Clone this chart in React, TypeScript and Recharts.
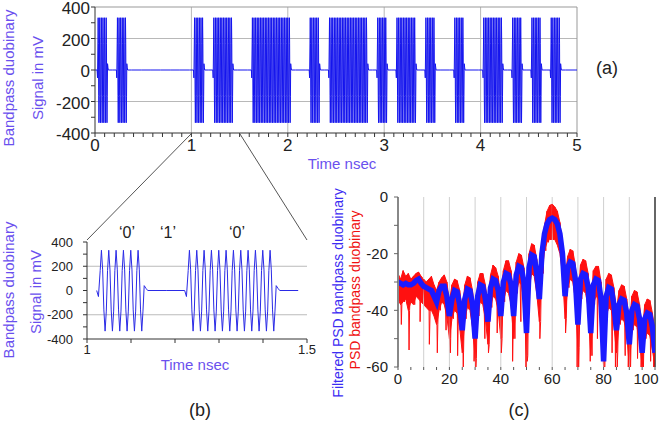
import React from 'react';
import { LineChart, ComposedChart, Line, Area, XAxis, YAxis, ReferenceLine } from 'recharts';

const FONT = '"Liberation Sans", Arial, Helvetica, sans-serif';
const VIOLET = '#6a50ee';
const SIGNAL_BLUE = '#1414ee';

// time signal: 0.1 ns bit slots, a 60 GHz burst wherever a '0' is sent
const slotStart = 0.03;
const slotWidth = 0.1;
const slotCount = 50;
const burstSlots = [0, 2, 10, 12, 13, 16, 17, 18, 19, 22, 24, 25, 26, 27, 29, 31, 32, 34, 37, 40, 41, 43, 45, 47];
const carrierCycle = [165, 332, 170, -160, -335, -170]; // mV over one carrier period
const cyclesPerSlot = 6;
const leadIn = [-50];
const tail = [40, 18, 0];

const timeTicks = Array.from({ length: 51 }, (_, i) => i / 10);
const zoomTicks = [1, 1.1, 1.2, 1.3, 1.4, 1.5];
const mvTicks = [-400, -300, -200, -100, 0, 100, 200, 300, 400];
const mvGrid = [-200, 200];
const timeGrid = [1, 2, 3, 4];

// spectrum, dB, one value per GHz from 0 to 100
const psdFiltered = [
  -30, -30.5, -31, -30.5, -31, -31, -30.5, -29.5, -29, -30.5,
  -31.5, -32, -32.5, -33, -35, -37, -33, -31.5, -31.5, -35,
  -42, -36, -33, -33.5, -38, -47, -36, -32.5, -33, -38,
  -50, -35, -31, -31.5, -36, -44, -32, -29, -29.5, -33,
  -42, -30, -27, -27.5, -31, -42, -27.5, -24.5, -25, -30,
  -48, -25, -20.5, -21, -27, -36, -20, -13, -9.5, -8,
  -7.5, -8, -9.5, -13, -20, -35, -25, -23, -23.5, -29,
  -45, -29, -27, -27.5, -32, -48, -31, -29, -29.5, -36,
  -58, -35, -32, -32.5, -38, -47, -38, -36, -36.5, -41,
  -52, -40, -38, -38.5, -43, -55, -43, -41, -41.5, -46,
  -55,
];
// unfiltered PSD: upper and lower edge of the noisy trace per GHz
const psdHigh = [
  -27, -29, -26, -28, -27, -29, -28, -27, -26.5, -28,
  -29, -30, -29, -28, -31, -33, -30, -28.5, -27.5, -30,
  -37, -31, -29, -29.5, -33, -40, -31, -28, -28.5, -33,
  -44, -30, -27, -27, -31, -38, -27.5, -24, -25, -28,
  -36, -26, -22.5, -22.5, -26, -36, -23, -20, -20.5, -25,
  -42, -20, -16.5, -17, -22, -32, -17, -10, -5, -3,
  -2.5, -3.5, -5, -9, -17, -29, -21, -18.5, -19, -24,
  -38, -24, -22, -22.5, -27, -41, -26, -24.5, -24.5, -30,
  -50, -29, -27, -27.5, -32, -40, -33, -31, -31.5, -36,
  -45, -35, -33, -33.5, -38, -48, -38, -36, -36.5, -41,
  -48,
];
const psdLow = [
  -36, -38, -37, -36, -40, -37, -38, -35, -36, -37,
  -38, -39, -40, -40, -42, -45, -40, -37, -38, -42,
  -50, -43, -40, -41, -46, -55, -43, -39, -40, -46,
  -57, -42, -37, -38, -43, -52, -39, -35, -36, -40,
  -50, -37, -33, -34, -38, -50, -34, -30, -31, -37,
  -56, -32, -27, -28, -34, -44, -27, -19, -16, -15,
  -15, -15, -17, -20, -27, -43, -32, -29, -30, -36,
  -53, -36, -33, -34, -39, -56, -38, -35, -36, -43,
  -60, -42, -39, -40, -45, -55, -45, -43, -44, -48,
  -60, -47, -45, -46, -51, -60, -50, -48, -49, -54,
  -60,
];
// deep single-bin drops of the unfiltered PSD [GHz, dB]
const psdDrops: [number, number][] = [
  [1.3, -45], [4.3, -54], [8.6, -44], [12.2, -52], [15.3, -55], [18.7, -47], [20.4, -55],
  [23.2, -56], [25.4, -60], [29.6, -58], [30.3, -60], [33.8, -50], [35.2, -55], [38.6, -48],
  [40.2, -55], [44.6, -58], [47.8, -44], [49.8, -60], [50.3, -58], [55.2, -50], [65.2, -48],
  [69.7, -60], [70.3, -60], [74.8, -58], [77.6, -50], [80.2, -60], [83.3, -55], [84.6, -60],
  [85.3, -60], [88.4, -56], [89.6, -60], [90.4, -60], [93.2, -57], [94.6, -60], [95.4, -60],
  [98.3, -58], [99.5, -60],
];
const freqTicks = [0, 5, 10, 15, 20, 25, 30, 35, 40, 45, 50, 55, 60, 65, 70, 75, 80, 85, 90, 95, 100];
const freqGrid = [10, 20, 30, 40, 50, 60, 70, 80, 90];
const dbTicks = [-60, -50, -40, -30, -20, -10, 0];

type Pt = { t: number; v: number };

function buildSignal(): Pt[] {
  const pts: Pt[] = [{ t: 0, v: 0 }];
  const perSlot = cyclesPerSlot * carrierCycle.length;
  const step = slotWidth / perSlot;
  const edge = 0.004;
  for (let s = 0; s < slotCount; s++) {
    const t0 = slotStart + s * slotWidth;
    const on = burstSlots.includes(s);
    const prevOn = burstSlots.includes(s - 1);
    const nextOn = burstSlots.includes(s + 1);
    if (!on) {
      pts.push({ t: t0 + slotWidth / 2, v: 0 });
      continue;
    }
    if (!prevOn) {
      pts.push({ t: t0 - edge * (leadIn.length + 1), v: 0 });
      leadIn.forEach((v, i) => pts.push({ t: t0 - edge * (leadIn.length - i), v }));
    }
    for (let k = 0; k < perSlot; k++) {
      pts.push({ t: t0 + k * step, v: carrierCycle[k % carrierCycle.length] });
    }
    if (!nextOn) {
      const end = t0 + slotWidth;
      tail.forEach((v, i) => pts.push({ t: end + edge * i, v }));
    }
  }
  pts.push({ t: 5, v: 0 });
  return pts;
}

const signal = buildSignal();
const zoomSignal = signal.filter((p) => p.t >= 1 && p.t <= 1.5);

const psdRows = psdFiltered.map((v, i) => ({ f: i, filt: v, band: [psdLow[i], psdHigh[i]] }));
const rawRows: { f: number; v: number }[] = [];
psdHigh.forEach((v, i) => {
  rawRows.push({ f: i, v });
  if (i < psdHigh.length - 1) rawRows.push({ f: i + 0.5, v: psdLow[i] });
});
psdDrops.forEach(([f, v]) => rawRows.push({ f, v }));
rawRows.sort((a, b) => a.f - b.f);

const near = (a: number, b: number) => Math.abs(a - b) < 1e-6;

// frequency tick: labels every 20 GHz, the last one pulled in from the edge
function FreqTick(props: any) {
  const { x, y, payload } = props;
  const v = payload.value as number;
  if (v % 20 !== 0) return null;
  return (
    <text x={x} y={y} dy={12} dx={v === 100 ? -9 : 0} textAnchor="middle" fontSize={15} fill="#222" fontFamily={FONT}>
      {v}
    </text>
  );
}

function SideLabel({ x, y, text, color, size }: { x: number; y: number; text: string; color: string; size: number }) {
  return (
    <text
      transform={`translate(${x},${y}) rotate(-90)`}
      textAnchor="middle"
      dominantBaseline="central"
      fill={color}
      fontSize={size}
      fontFamily={FONT}
    >
      {text}
    </text>
  );
}

function Caption({ x, y, text, color = '#222', size = 18 }: { x: number; y: number; text: string; color?: string; size?: number }) {
  return (
    <text x={x} y={y} textAnchor="middle" dominantBaseline="central" fill={color} fontSize={size} fontFamily={FONT}>
      {text}
    </text>
  );
}

export default function App() {
  return (
    <div style={{ position: 'absolute', left: 0, top: 0, width: 659, height: 424, background: '#fff', fontFamily: FONT }}>
      {/* (a) full time trace */}
      <div style={{ position: 'absolute', left: 0, top: 0 }}>
        <LineChart width={659} height={180} data={signal} margin={{ top: 7, right: 82, bottom: 17, left: 0 }}>
          <XAxis
            type="number"
            dataKey="t"
            domain={[0, 5]}
            ticks={timeTicks}
            interval={0}
            tickFormatter={(v: number) => (near(v, Math.round(v)) ? String(Math.round(v)) : '')}
            height={30}
            tick={{ fontSize: 17, fill: '#222', fontFamily: FONT }}
            tickSize={4}
            stroke="#333"
          />
          <YAxis
            type="number"
            domain={[-400, 400]}
            ticks={mvTicks}
            interval={0}
            tickFormatter={(v: number) => (v % 200 === 0 ? String(v) : '')}
            width={95}
            tick={{ fontSize: 17, fill: '#222', fontFamily: FONT, dy: 1 }}
            tickSize={4}
            tickMargin={1}
            stroke="#333"
          />
          {timeGrid.map((x) => (
            <ReferenceLine key={`ax${x}`} x={x} stroke="#b8b8b8" />
          ))}
          {mvGrid.map((y) => (
            <ReferenceLine key={`ay${y}`} y={y} stroke="#b8b8b8" />
          ))}
          <ReferenceLine y={400} stroke="#999" />
          <ReferenceLine x={5} stroke="#999" />
          <Line type="linear" dataKey="v" stroke={SIGNAL_BLUE} strokeWidth={1} dot={false} isAnimationActive={false} />
        </LineChart>
      </div>

      {/* (b) zoom 1 - 1.5 ns */}
      <div style={{ position: 'absolute', left: 0, top: 220 }}>
        <LineChart width={330} height={150} data={zoomSignal} margin={{ top: 22, right: 23, bottom: 6, left: 0 }}>
          <XAxis
            type="number"
            dataKey="t"
            domain={[1, 1.5]}
            ticks={zoomTicks}
            interval={0}
            tickFormatter={(v: number) => (near(v, 1) ? '1' : near(v, 1.5) ? '1.5' : '')}
            height={25}
            tick={{ fontSize: 13, fill: '#222', fontFamily: FONT }}
            tickSize={4}
            stroke="#333"
          />
          <YAxis
            type="number"
            domain={[-400, 400]}
            ticks={mvTicks}
            interval={0}
            tickFormatter={(v: number) => (v % 200 === 0 ? String(v) : '')}
            width={87}
            tick={{ fontSize: 13, fill: '#222', fontFamily: FONT }}
            tickSize={4}
            tickMargin={10}
            stroke="#333"
          />
          {mvGrid.map((y) => (
            <ReferenceLine key={`by${y}`} y={y} stroke="#bbb" />
          ))}
          <Line type="linear" dataKey="v" stroke="#2a2ae6" strokeWidth={1} dot={false} isAnimationActive={false} />
        </LineChart>
      </div>

      {/* (c) power spectral density */}
      <div style={{ position: 'absolute', left: 330, top: 180 }}>
        <ComposedChart width={329} height={214} data={psdRows} margin={{ top: 17, right: 4, bottom: 5, left: 0 }}>
          <XAxis
            type="number"
            dataKey="f"
            domain={[0, 100]}
            ticks={freqTicks}
            interval={0}
            height={22}
            tick={<FreqTick />}
            tickSize={3}
            axisLine={false}
            tickLine={{ stroke: '#555' }}
            allowDataOverflow
          />
          <YAxis
            type="number"
            domain={[-60, 0]}
            ticks={dbTicks}
            interval={0}
            tickFormatter={(v: number) => (v % 20 === 0 ? String(v) : '')}
            width={68}
            tick={{ fontSize: 15, fill: '#222', fontFamily: FONT }}
            tickSize={4}
            tickMargin={6}
            axisLine={{ stroke: '#888', strokeWidth: 2 }}
            tickLine={{ stroke: '#666' }}
            allowDataOverflow
          />
          {freqGrid.map((x) => (
            <ReferenceLine key={`cx${x}`} x={x} stroke="#cfcfcf" />
          ))}
          <ReferenceLine x={100} stroke="#333" strokeWidth={1.5} />
          <Area
            type="linear"
            dataKey="band"
            stroke="#ff1010"
            strokeWidth={1}
            fill="#ff1010"
            fillOpacity={1}
            dot={false}
            activeDot={false}
            isAnimationActive={false}
          />
          <Line
            data={rawRows}
            type="linear"
            dataKey="v"
            stroke="#ff1010"
            strokeWidth={1}
            dot={false}
            isAnimationActive={false}
          />
          <Line
            type="linear"
            dataKey="filt"
            stroke="#1a1aff"
            strokeWidth={5.5}
            dot={false}
            isAnimationActive={false}
          />
        </ComposedChart>
      </div>

      {/* labels, captions and zoom callout */}
      <svg width={659} height={424} style={{ position: 'absolute', left: 0, top: 0, pointerEvents: 'none' }}>
        <line x1={191} y1={134} x2={87} y2={240} stroke="#555" strokeWidth={1} />
        <line x1={240} y1={134} x2={307} y2={240} stroke="#555" strokeWidth={1} />

        <SideLabel x={8} y={78} text="Bandpass duobinary" color={VIOLET} size={15} />
        <SideLabel x={37} y={78} text="Signal in mV" color={VIOLET} size={15} />
        <Caption x={342} y={163} text="Time nsec" color={VIOLET} size={15} />
        <Caption x={607} y={68} text="(a)" />

        <SideLabel x={8} y={290} text="Bandpass duobinary" color={VIOLET} size={15} />
        <SideLabel x={35} y={292} text="Signal in mV" color={VIOLET} size={15} />
        <Caption x={127} y={232} text="‘0’" size={16} />
        <Caption x={168} y={232} text="‘1’" size={16} />
        <Caption x={237} y={232} text="‘0’" size={16} />
        <Caption x={195} y={364} text="Time nsec" color={VIOLET} size={15} />
        <Caption x={200} y={410} text="(b)" />

        <SideLabel x={338} y={293} text="Filtered PSD bandpass duobinary" color="#3c2cf2" size={14} />
        <SideLabel x={355} y={290} text="PSD bandpass duobinary" color="#f01010" size={14} />
        <Caption x={519} y={410} text="(c)" />
      </svg>
    </div>
  );
}
